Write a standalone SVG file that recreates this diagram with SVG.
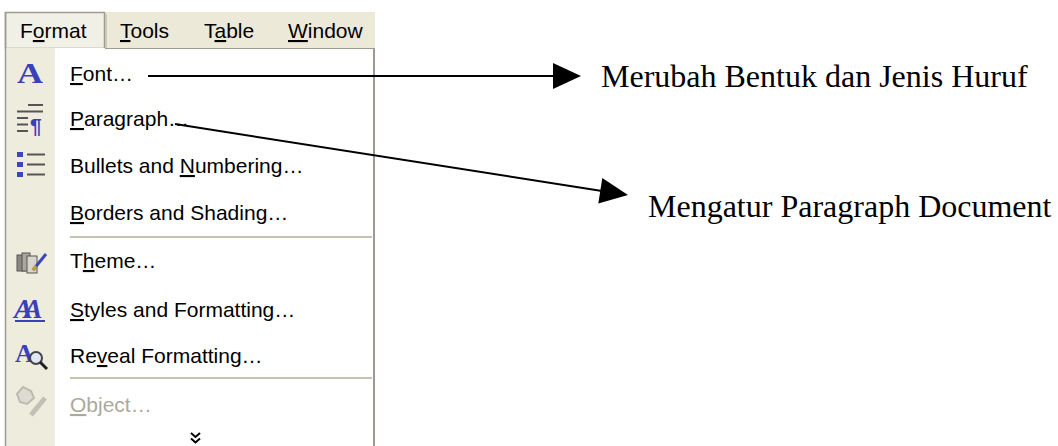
<svg xmlns="http://www.w3.org/2000/svg" width="1058" height="446" viewBox="0 0 1058 446">
  <style>
    .mi { font-family: "Liberation Sans", Arial, sans-serif; font-size: 21px; fill: #000; }
    .dis { fill: #aca99a; }
    .u { text-decoration: underline; }
    .lbl { font-family: "Liberation Serif", "Times New Roman", serif; font-size: 32px; fill: #000; }
    .sep { stroke: #c5c2b2; stroke-width: 2; }
    .con { stroke: #000; stroke-width: 2; fill: none; }
    .head { fill: #000; stroke: none; }
    .ico { font-family: "Liberation Serif", "Times New Roman", serif; font-weight: bold; fill: #3b3fb8; }
    .gl { stroke: #555; stroke-width: 2; }
  </style>
  <rect x="0" y="0" width="1058" height="446" fill="#fff"/>

  <g id="menubar">
    <rect x="105" y="12" width="270" height="36" fill="#ece9d8"/>
    <rect x="5.5" y="12.5" width="99" height="36" fill="#f1f0e7" stroke="#9d9b8f" stroke-width="1.5"/>
    <line x1="106" y1="14" x2="106" y2="48" stroke="#cbc8b8" stroke-width="2"/>
    <text class="mi" x="20" y="38">F<tspan class="u">o</tspan>rmat</text>
    <text class="mi" x="120" y="38"><tspan class="u">T</tspan>ools</text>
    <text class="mi" x="204" y="38">T<tspan class="u">a</tspan>ble</text>
    <text class="mi" x="288" y="38"><tspan class="u">W</tspan>indow</text>
  </g>

  <g id="menu-body">
    <rect x="5.5" y="48" width="368" height="400" fill="#fff"/>
    <rect x="6" y="48" width="49" height="400" fill="#eeecdd"/>
    <line x1="5.5" y1="12" x2="5.5" y2="446" stroke="#9d9b8f" stroke-width="1.5"/>
    <line x1="105" y1="48.5" x2="375" y2="48.5" stroke="#9d9b8f" stroke-width="1"/>
    <line x1="374" y1="48" x2="374" y2="446" stroke="#9d9b8f" stroke-width="2"/>
    <line class="sep" x1="70" y1="237" x2="372" y2="237"/>
    <line class="sep" x1="70" y1="378" x2="372" y2="378"/>
  </g>

  <g id="item-font">
    <text class="ico" x="17" y="83" font-size="30" textLength="26" lengthAdjust="spacingAndGlyphs">A</text>
    <text class="mi" x="70" y="81"><tspan class="u">F</tspan>ont…</text>
  </g>

  <g id="item-paragraph">
    <line class="gl" x1="28" y1="105" x2="43" y2="105"/>
    <line class="gl" x1="17" y1="111.5" x2="43" y2="111.5"/>
    <line class="gl" x1="17" y1="118" x2="28" y2="118"/>
    <line class="gl" x1="17" y1="124.5" x2="28" y2="124.5"/>
    <line class="gl" x1="17" y1="131" x2="28" y2="131"/>
    <text x="30" y="133" font-family="Liberation Sans, Arial, sans-serif" font-weight="bold" font-size="21" fill="#3b3fb8">¶</text>
    <text class="mi" x="70" y="126"><tspan class="u">P</tspan>aragraph…</text>
  </g>

  <g id="item-bullets">
    <rect x="17" y="152" width="6" height="5" fill="#3b47b8"/>
    <rect x="17" y="162" width="6" height="5" fill="#3b47b8"/>
    <rect x="17" y="172" width="6" height="5" fill="#3b47b8"/>
    <line class="gl" x1="27" y1="154.5" x2="45" y2="154.5"/>
    <line class="gl" x1="27" y1="164.5" x2="45" y2="164.5"/>
    <line class="gl" x1="27" y1="174.5" x2="45" y2="174.5"/>
    <text class="mi" x="70" y="173">Bullets and <tspan class="u">N</tspan>umbering…</text>
  </g>

  <g id="item-borders">
    <text class="mi" x="70" y="220"><tspan class="u">B</tspan>orders and Shading…</text>
  </g>

  <g id="item-theme">
    <rect x="17" y="255" width="8" height="16" fill="#8a8880" stroke="#555" stroke-width="1"/>
    <rect x="22" y="253" width="8" height="18" fill="#a9a79e" stroke="#555" stroke-width="1"/>
    <rect x="27" y="256" width="10" height="17" fill="#d8d6cc" stroke="#555" stroke-width="1"/>
    <line x1="33" y1="270" x2="46" y2="254" stroke="#3b47b8" stroke-width="3"/>
    <line x1="33" y1="270" x2="36" y2="266" stroke="#c8a030" stroke-width="3"/>
    <text class="mi" x="70" y="268">T<tspan class="u">h</tspan>eme…</text>
  </g>

  <g id="item-styles">
    <text class="ico" x="14" y="318" font-size="28" font-style="italic" letter-spacing="-9" fill="#3a3ad0">AA</text>
    <line x1="15" y1="321" x2="45" y2="321" stroke="#3b3fb8" stroke-width="2"/>
    <text class="mi" x="70" y="317"><tspan class="u">S</tspan>tyles and Formatting…</text>
  </g>

  <g id="item-reveal">
    <text class="ico" x="15" y="362" font-size="26" fill="#3b3fb8">A</text>
    <circle cx="36" cy="358" r="6" fill="#dfe6f4" stroke="#444" stroke-width="2"/>
    <line x1="40" y1="362" x2="47" y2="369" stroke="#222" stroke-width="3"/>
    <text class="mi" x="70" y="363">Re<tspan class="u">v</tspan>eal Formatting…</text>
  </g>

  <g id="item-object">
    <path d="M17 394 L23 387 L31 391 L34 398 L27 404 L20 402 Z" fill="#dedcd2" stroke="#bdbbb0" stroke-width="2"/>
    <line x1="31" y1="415" x2="45" y2="398" stroke="#c2c0b5" stroke-width="5"/>
    <text class="mi dis" x="70" y="412"><tspan class="u">O</tspan>bject…</text>
  </g>

  <g id="item-more">
    <path d="M191 433 L195.5 437 L200 433 M191 438.5 L195.5 442.5 L200 438.5" fill="none" stroke="#000" stroke-width="2"/>
  </g>

  <g id="connectors">
    <line class="con" x1="148" y1="76" x2="556" y2="76"/>
    <polygon class="head" points="553,63 581,76 553,89"/>
    <line class="con" x1="175" y1="124" x2="602" y2="191"/>
    <polygon class="head" points="628,195 598.3,203.5 602.3,177.9"/>
  </g>

  <g id="label-font">
    <text class="lbl" x="601" y="87">Merubah Bentuk dan Jenis Huruf</text>
  </g>
  <g id="label-paragraph">
    <text class="lbl" x="648" y="217">Mengatur Paragraph Document</text>
  </g>
</svg>
